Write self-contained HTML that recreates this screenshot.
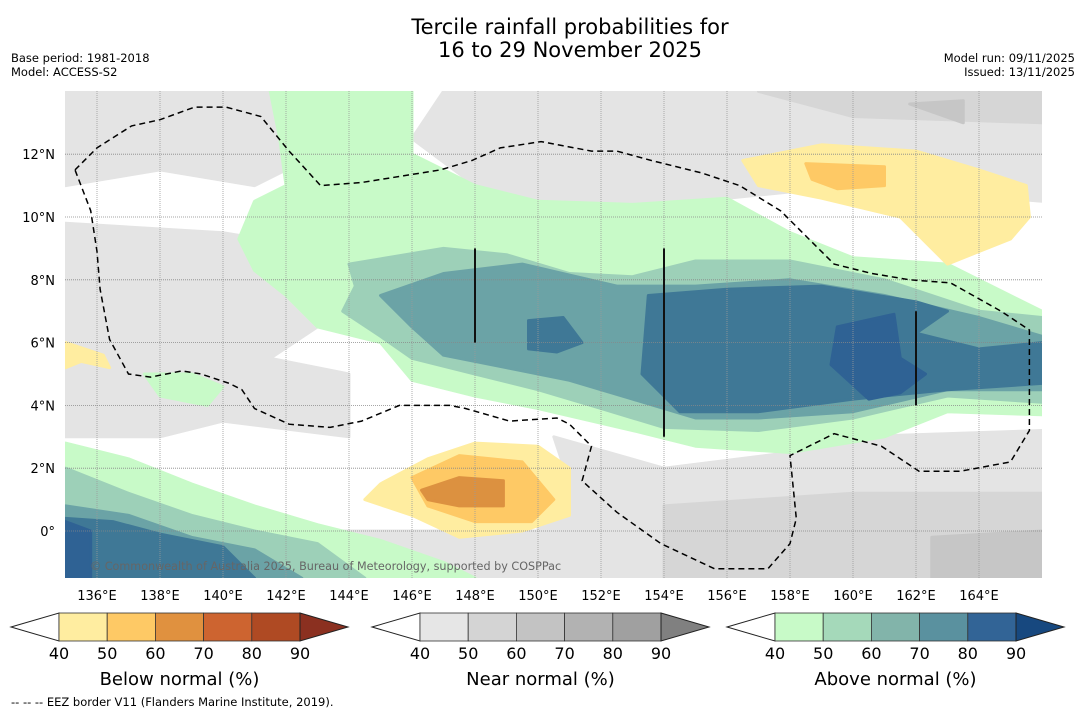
<!DOCTYPE html>
<html><head><meta charset="utf-8"><style>
body{margin:0;background:#fff;width:1085px;height:713px;overflow:hidden;font-family:"DejaVu Sans","Liberation Sans",sans-serif;}
svg text{font-family:"DejaVu Sans","Liberation Sans",sans-serif;}
</style></head><body>
<svg id="c" width="1085" height="713" xmlns="http://www.w3.org/2000/svg">
<rect width="1085" height="713" fill="#fff"/>
<text x="570" y="34" font-size="21" text-anchor="middle">Tercile rainfall probabilities for</text>
<text x="570" y="57" font-size="21" text-anchor="middle">16 to 29 November 2025</text>
<text x="11" y="62" font-size="11.5">Base period: 1981-2018</text>
<text x="11" y="76" font-size="11.5">Model: ACCESS-S2</text>
<text x="1075" y="62" font-size="11.5" text-anchor="end">Model run: 09/11/2025</text>
<text x="1075" y="76" font-size="11.5" text-anchor="end">Issued: 13/11/2025</text>
<defs><clipPath id="mc"><rect x="65" y="91" width="977" height="487"/></clipPath></defs>
<g id="map" clip-path="url(#mc)"></g>
<g id="axes"></g>
<g id="bars"></g>
<text x="11" y="706" font-size="11.5">--  --  -- EEZ border V11 (Flanders Marine Institute, 2019).</text>
</svg>
<script>
const lonTicks=[136,138,140,142,144,146,148,150,152,154,156,158,160,162,164];
const latTicks=[0,2,4,6,8,10,12];
const cbTicks=[40,50,60,70,80,90];
const belowColors=["#FFEDA0","#FEC965","#E0913F","#CD6430","#AF4A23","#8B3020"];
const nearColors=["#E6E6E6","#D4D4D4","#C3C3C3","#B2B2B2","#A0A0A0","#808080"];
const aboveColors=["#C8FAC8","#A5D9BA","#82B4AA","#5A919F","#326496","#17487F"];
const grayLight=[[135,14,143,14,143,12,141,11,138,11.5,135,11],[150,14,166,14,166,10.5,160,11,156,10.6,152,10,148,11,146,12.5,147,14],[135,9.8,140,9.5,143,9,143,6.5,141.5,5.5,144,5,144,3,140,3.5,138,3,135,3],[150.5,3,154,2,158,2.5,160,3,166,3.2,166,-1.5,150,-1.5,150,0.5,151,1.5],[142,0,150,0,150.5,-1.5,142,-1.5]];
const grayMid=[[157,14,166,14,166,13,160,13.2],[154,0.8,160,1.2,166,1.2,166,-1.5,154,-1.5]];
const grayDark=[[161.8,13.6,163.5,13.7,163.5,13],[162.5,-0.2,166,0,166,-1.5,162.5,-1.5]];
const green40=[[141.5,14,146,14,146,12,148,11,150,10.5,153,10.4,156,10.6,158,9.5,160,8.7,163,8.5,166,7,166,3.7,163,3.8,161,3,158,2.5,155,2.7,153,3.2,150,3.9,148,4.3,146,4.8,145,6,143,6.5,142,7.5,141,8.3,140.5,9.3,141,10.5,142,11,141.8,12.5],[135,2.8,137,2.3,139,1.5,141,0.8,143,0.2,145,-0.3,147,-1,148,-1.5,135,-1.5],[137.5,5,139,5,140,4.6,139.5,4,138,4.3]];
const green50=[[144,8.5,147,9,149,8.8,151,8.2,153,8.1,155,8.6,158,8.6,161,8,164,7,166,6.8,166,4.1,163,4.3,160,3.6,157,3.2,154,3.3,152,3.9,150,4.5,148,5,146,5.5,145,6.2,143.8,7,144.2,7.8],[135,2,137,1.2,139,0.5,141,0,143,-0.4,144.5,-1.5,135,-1.5]];
const green60=[[145,7.5,147,8.2,149.5,8.5,152.5,7.8,155,7.8,158,8,161,7.5,164,6.8,166,6.2,166,4.5,163,4.5,160,3.8,157,3.6,155,3.6,153,4.2,151,4.8,149,5.2,147,5.6,146,6.5],[135,0.8,137,0.5,139,-0.2,141,-0.6,142.5,-1.5,135,-1.5]];
const green70=[[153.5,7.5,156,7.7,159,7.8,162,7.3,163,7,162,6.3,164,5.8,166,6,166,4.7,163,4.5,160,4.2,157,3.8,154.5,3.8,153.3,5],[149.7,6.7,150.8,6.8,151.4,6,150.6,5.7,149.7,5.8],[135,0.4,136.5,0.3,138,-0.1,140,-0.5,141,-1.5,135,-1.5]];
const green80=[[159.5,6.5,161.3,6.9,161.5,5.5,162.3,5,161.5,4.4,160.5,4.2,159.3,5.3],[135,0.3,135.8,0,135.8,-1.5,135,-1.5]];
const yellow40=[[156.5,11.8,159,12.3,162,12.1,164,11.5,165.5,11,165.6,10,165,9.3,164,8.9,163,8.5,162.5,9,161.5,10,159,10.6,157,11],[145,1.5,146.5,2.3,148,2.8,150,2.7,151,2,151,0.5,149.5,0,147.5,-0.2,146,0.5,144.5,1],[135,6,136.2,5.6,136.4,5.2,135.5,5.4,135,5.2]];
const yellow50=[[158.5,11.7,161,11.6,161,11,159.5,10.9,158.7,11.2],[146,1.7,147.5,2.4,149.5,2.2,150.5,1,149.8,0.3,148,0.3,146.5,0.8]];
const orange60=[[146.3,1.3,147.5,1.7,148.9,1.6,148.9,0.8,147.5,0.8,146.5,1]];
const eez=[135.3,11.5,136.0,12.2,137.1,12.9,138.0,13.1,139.1,13.5,140.1,13.5,141.2,13.2,142.1,12.1,143.1,11.0,144.4,11.1,146.9,11.5,147.9,11.8,148.8,12.2,150.1,12.4,151.7,12.1,152.5,12.1,153.6,11.8,155.2,11.4,156.4,11.0,157.7,10.2,159.4,8.5,160.6,8.2,161.8,8.0,163.1,7.9,164.7,7.0,165.6,6.4,165.6,3.2,165.0,2.2,163.4,1.9,162.1,1.9,160.9,2.7,159.4,3.1,158.0,2.4,158.2,0.4,158.0,-0.4,157.3,-1.2,155.6,-1.2,153.9,-0.4,152.5,0.6,151.4,1.6,151.7,2.7,151.0,3.4,150.6,3.6,149.1,3.5,147.7,3.9,147.2,4.0,145.6,4.0,144.4,3.5,143.4,3.3,142.1,3.4,141.0,3.9,140.6,4.5,140.2,4.7,139.3,5.0,138.7,5.1,137.7,4.9,137.0,5.0,136.4,6.1,136.1,7.7,136.0,8.9,135.8,10.2,135.3,11.5];
const meridianLines=[[148,6,9],[154,3,9],[162,4,7]];

const NS="http://www.w3.org/2000/svg";
const X=lon=>97+(lon-136)*31.5;
const Y=lat=>531-lat*31.4;
function mk(tag,attrs,parent){const e=document.createElementNS(NS,tag);for(const k in attrs)e.setAttribute(k,attrs[k]);parent.appendChild(e);return e;}
function pts(a){let s=[];for(let i=0;i<a.length;i+=2)s.push(X(a[i]).toFixed(1)+","+Y(a[i+1]).toFixed(1));return s.join(" ");}
const map=document.getElementById('map');
const layers=[[grayLight,"#E4E4E4","near-normal-40"],[grayMid,"#D6D6D6","near-normal-50"],[grayDark,"#C6C6C6","near-normal-60"],[green40,"#C8FAC8","above-normal-40"],[green50,"#9DD0B8","above-normal-50"],[green60,"#6BA3A6","above-normal-60"],[green70,"#3F7896","above-normal-70"],[green80,"#2F6294","above-normal-80"],[yellow40,"#FFEDA0","below-normal-40"],[yellow50,"#FEC965","below-normal-50"],[orange60,"#DC9140","below-normal-60"]];
layers.forEach(([polys,col,nm])=>polys.forEach(p=>{
 const e=mk('polygon',{points:pts(p),fill:col,stroke:col,'stroke-width':3,'stroke-linejoin':'round'},map);
 
 
}));
lonTicks.forEach(l=>{const e=mk('line',{x1:X(l),x2:X(l),y1:91,y2:578,stroke:'#999','stroke-width':0.8,'stroke-dasharray':'1,1'},map);
 
 });
latTicks.forEach(l=>{const e=mk('line',{x1:65,x2:1042,y1:Y(l),y2:Y(l),stroke:'#888','stroke-width':0.8,'stroke-dasharray':'1,1'},map);
 
 });
meridianLines.forEach(([lo,a,b])=>{const e=mk('line',{x1:X(lo),x2:X(lo),y1:Y(a),y2:Y(b),stroke:'#111','stroke-width':2},map);
 
 });
{const e=mk('polyline',{points:pts(eez),fill:'none',stroke:'#000','stroke-width':1.5,'stroke-dasharray':'6,4'},map);
 
 }
{const e=mk('text',{x:90,y:570,'font-size':11.2,fill:'#666'},map);e.textContent='© Commonwealth of Australia 2025, Bureau of Meteorology, supported by COSPPac';
 
 }
const ax=document.getElementById('axes');
lonTicks.forEach(l=>{const e=mk('text',{x:X(l),y:600,'font-size':13,'text-anchor':'middle'},ax);e.textContent=l+'°E';
 
 });
latTicks.forEach(l=>{const e=mk('text',{x:55,y:Y(l)+5,'font-size':13,'text-anchor':'end'},ax);e.textContent=l===0?'0°':l+'°N';
 
 });
const bars=document.getElementById('bars');
const cbs=[[11,belowColors,'Below normal (%)','below'],[372,nearColors,'Near normal (%)','near'],[727,aboveColors,'Above normal (%)','above']];
cbs.forEach(([x0,cols,title,nm])=>{
 const g=mk('g',{},bars);
 
 
 const bx=x0+48,w=48.2,y0=613,h=28;
 mk('polygon',{points:`${x0},${y0+h/2} ${bx},${y0} ${bx},${y0+h}`,fill:'#fff',stroke:'#222','stroke-width':1},g);
 for(let i=0;i<5;i++){const r=mk('rect',{x:bx+i*w,y:y0,width:w,height:h,fill:cols[i],stroke:'#333','stroke-width':0.8},g);
  
  }
 const ex=bx+5*w;
 mk('polygon',{points:`${ex},${y0} ${ex+48},${y0+h/2} ${ex},${y0+h}`,fill:cols[5],stroke:'#222','stroke-width':1},g);
 cbTicks.forEach((t,i)=>{const e=mk('text',{x:bx+i*w,y:659,'font-size':16,'text-anchor':'middle'},g);e.textContent=t;
  
  });
 const tt=mk('text',{x:bx+2.5*w,y:685,'font-size':18,'text-anchor':'middle'},g);tt.textContent=title;
 
 
});
</script>
</body></html>
